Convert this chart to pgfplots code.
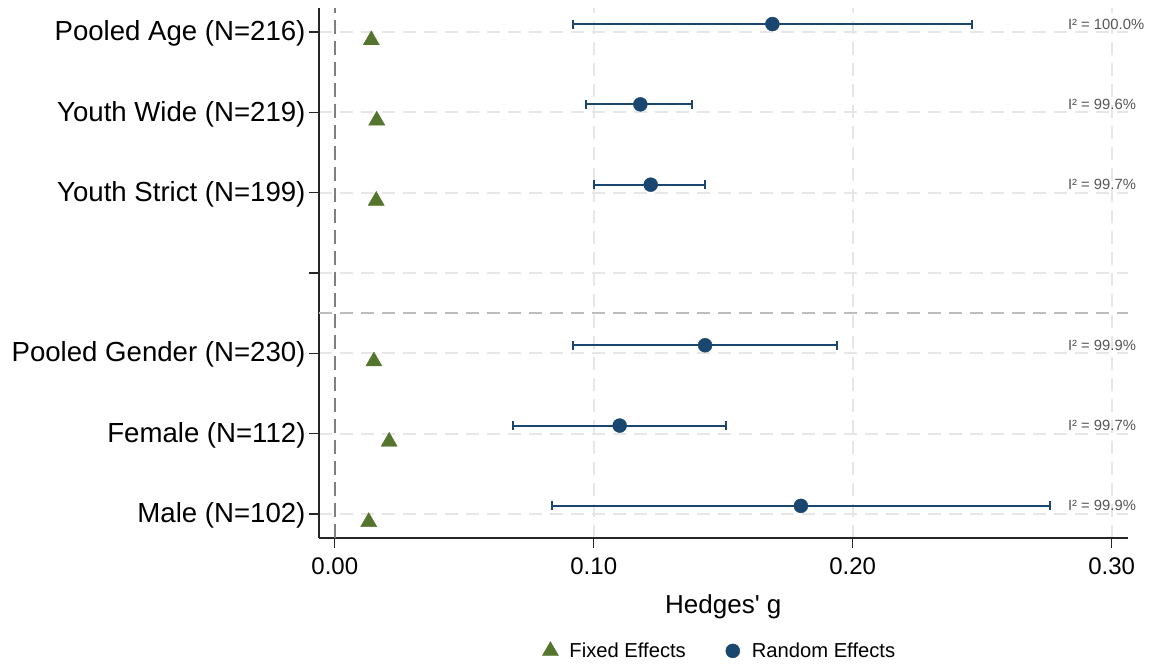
\documentclass[border=0pt]{standalone}
\usepackage{fontspec}
\setmainfont{Liberation Sans}
\newfontfamily\plainsans{Liberation Sans}
\usepackage{pgfplots}
\usepackage{pgfplotstable}
\pgfplotsset{compat=1.18}

\definecolor{stnavy}{HTML}{1A476F}
\definecolor{stgreen}{HTML}{55752F}
\definecolor{zeroline}{HTML}{7F7F7F}
\definecolor{gridgray}{HTML}{E6E6E6}
\definecolor{sepgray}{HTML}{BDBDBD}
\definecolor{isqgray}{HTML}{555555}

% Random-effects pooled estimates with 95% CI (row position y)
\pgfplotstableread{
y  est    lo     hi
7  0.169  0.092  0.246
6  0.118  0.097  0.138
5  0.122  0.100  0.143
3  0.143  0.092  0.194
2  0.110  0.069  0.151
1  0.180  0.084  0.276
}\randomtab

% Fixed-effects pooled estimates
\pgfplotstableread{
y  est
7  0.0141
6  0.0162
5  0.0160
3  0.0151
2  0.0210
1  0.0131
}\fixedtab

\begin{document}
\begin{tikzpicture}[x=1pt,y=1pt]
\path[use as bounding box] (0,0) rectangle (1152,664);
\begin{axis}[
  at={(319pt,126pt)}, anchor=south west,
  width=808.7pt, height=530pt, scale only axis,
  xmin=-0.0061, xmax=0.3062, ymin=0.7, ymax=7.3,
  clip=false,
  axis lines*=left,
  axis line style={line width=1.4pt, black!85},
  tick align=outside, major tick length=10pt,
  tick style={line width=1.4pt, black!85},
  xtick={0,0.1,0.2,0.3}, xticklabels={0.00,0.10,0.20,0.30},
  ytick={1,2,3,4,5,6,7},
  yticklabels={Male (N=102), Female (N=112), Pooled Gender (N=230), {}, Youth Strict (N=199), Youth Wide (N=219), Pooled Age (N=216)},
  xticklabel style={font=\fontsize{24}{28}\selectfont, yshift=-6pt},
  yticklabel style={font=\fontsize{27.6}{32}\selectfont, yshift=-1.5pt},
  xlabel={{\plainsans Hedges' g}},
  xlabel style={font=\fontsize{26}{30}\selectfont, yshift=-13pt},
  grid=major,
  major grid style={gridgray, line width=1.8pt, dash pattern=on 13pt off 8pt},
  legend columns=2,
  legend cell align=left,
  legend image code/.code={%
    \draw[#1] plot coordinates {(0pt,0pt)};
    \path[draw=none, fill=none] (-9pt,0pt) -- (17pt,0pt);},
  legend style={draw=none, fill=none, at={(0.495,-0.213)}, anchor=center,
    font=\fontsize{20.2}{24}\selectfont,
    /tikz/every even column/.append style={column sep=36pt}},
]
% reference line at zero and group separator
\addplot[forget plot, zeroline, line width=2.2pt, dash pattern=on 14pt off 7pt]
  coordinates {(0,0.7) (0,7.3)};
\addplot[forget plot, sepgray, line width=1.6pt, dash pattern=on 13pt off 8pt]
  coordinates {(-0.0061,3.5) (0.3062,3.5)};

\addplot[only marks, mark=triangle*, mark size=9.3pt, color=stgreen]
  table[x=est, y expr=\thisrow{y}-0.1] {\fixedtab};
\addlegendentry{Fixed Effects}

\addplot[only marks, mark=*, mark size=7pt, color=stnavy,
  error bars/.cd, x dir=both, x explicit,
  error bar style={line width=2pt, stnavy},
  error mark options={rotate=90, mark size=4.5pt, line width=2pt, stnavy}]
  table[x=est, y expr=\thisrow{y}+0.1,
        x error minus expr=\thisrow{est}-\thisrow{lo},
        x error plus expr=\thisrow{hi}-\thisrow{est}] {\randomtab};
\addlegendentry{Random Effects}

% heterogeneity
\begin{scope}[every node/.style={anchor=west, inner sep=0pt, text=isqgray, font=\fontsize{14.8}{17}\selectfont}]
\node at (axis cs:0.2831,7.1) {I² = 100.0\%};
\node at (axis cs:0.2831,6.1) {I² = 99.6\%};
\node at (axis cs:0.2831,5.1) {I² = 99.7\%};
\node at (axis cs:0.2831,3.1) {I² = 99.9\%};
\node at (axis cs:0.2831,2.1) {I² = 99.7\%};
\node at (axis cs:0.2831,1.1) {I² = 99.9\%};
\end{scope}
\end{axis}
\end{tikzpicture}
\end{document}
